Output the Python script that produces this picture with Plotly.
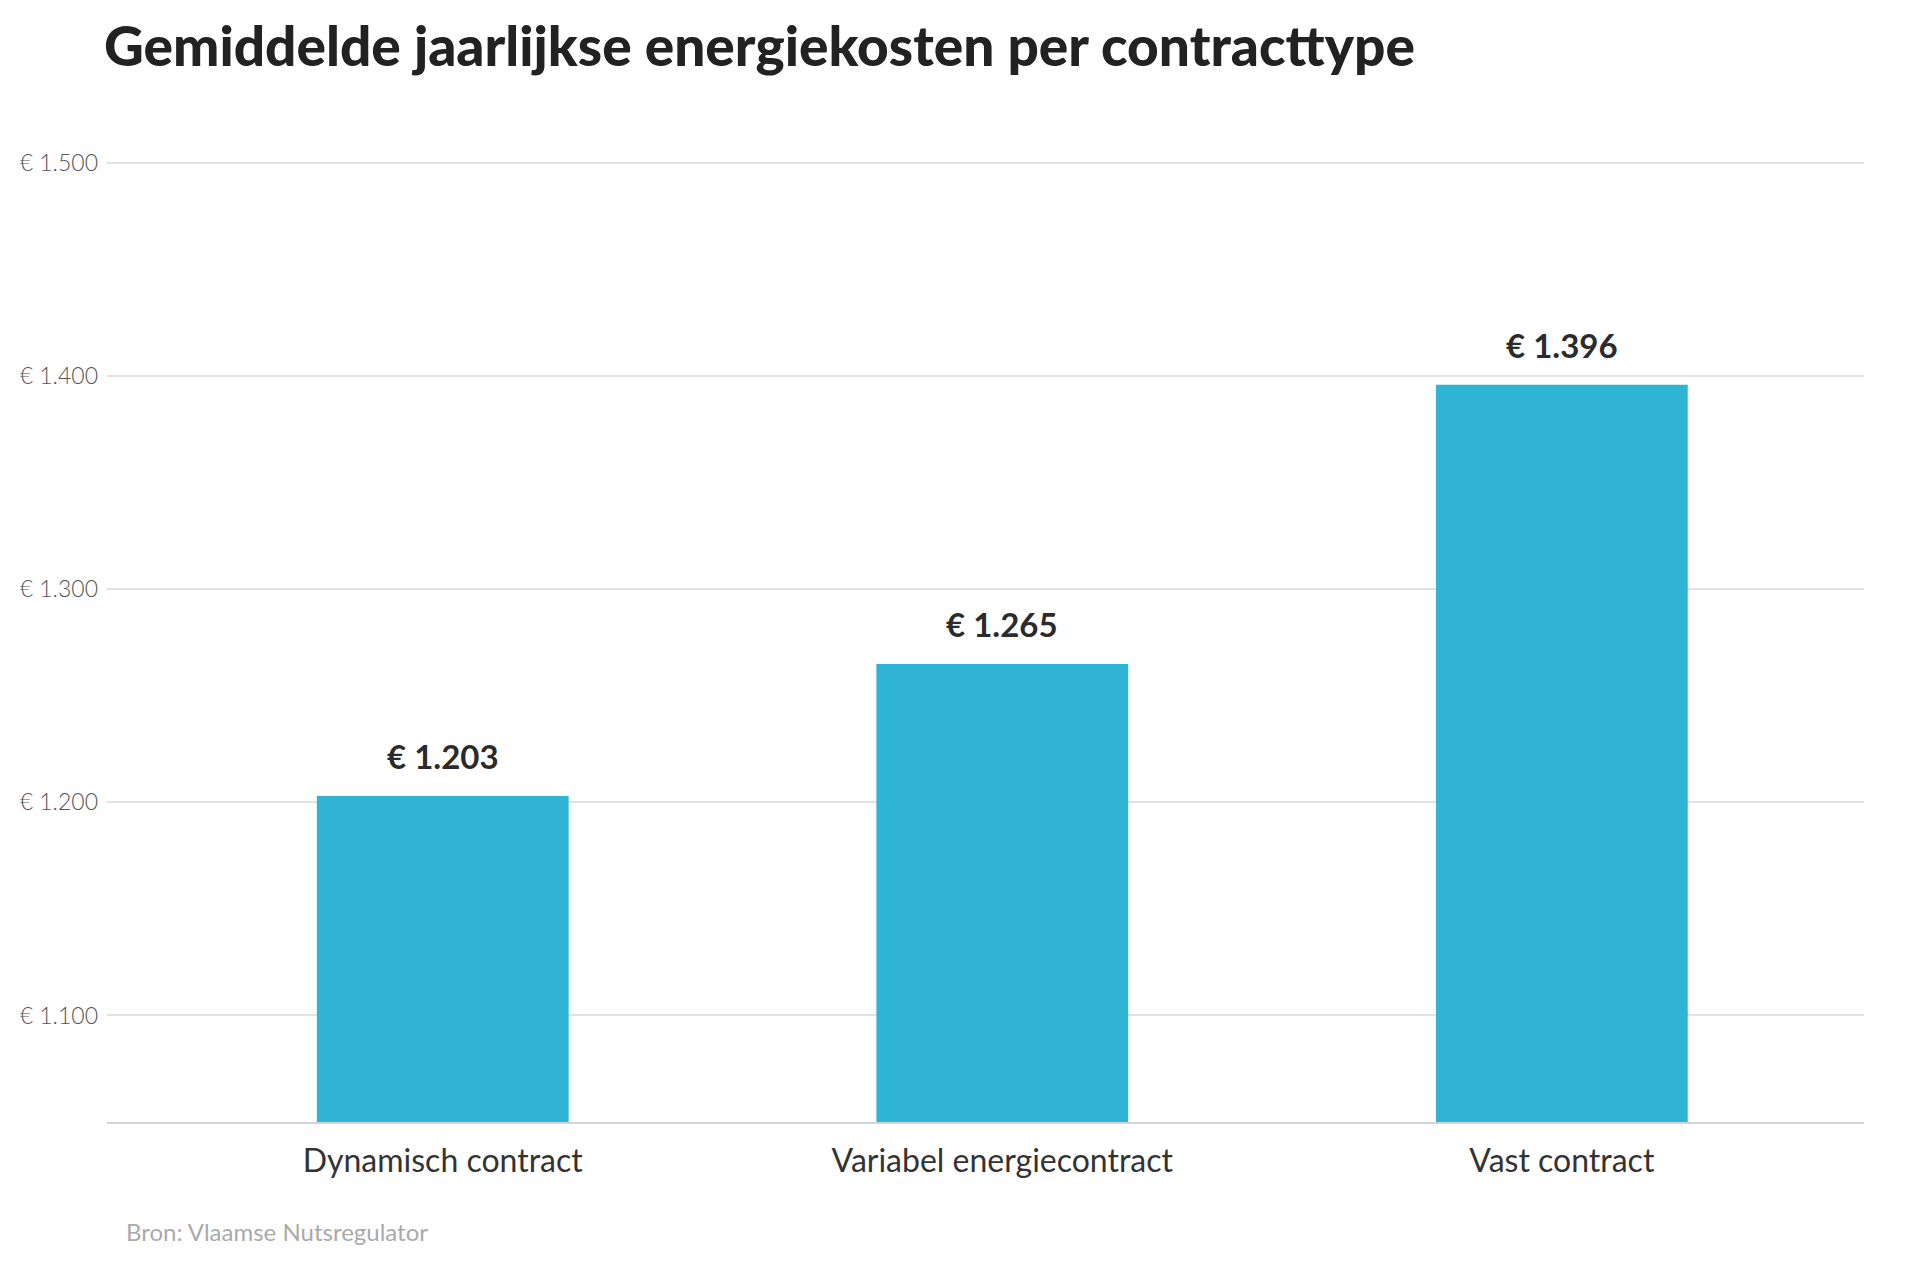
import plotly.graph_objects as go

# data
contract_types = ["Dynamisch contract", "Variabel energiecontract", "Vast contract"]
yearly_cost = [1203, 1265, 1396]
cost_labels = ["€ 1.203", "€ 1.265", "€ 1.396"]
y_tick_values = [1100, 1200, 1300, 1400, 1500]
y_tick_labels = ["€ 1.100", "€ 1.200", "€ 1.300", "€ 1.400", "€ 1.500"]

FONT = "Lato"

fig = go.Figure()

fig.add_trace(
    go.Bar(
        x=contract_types,
        y=yearly_cost,
        marker=dict(color="#2fb5d3", line=dict(width=0)),
        width=0.45,
        hoverinfo="skip",
    )
)

# value labels above the bars
for cat, val, lab in zip(contract_types, yearly_cost, cost_labels):
    fig.add_annotation(
        x=cat,
        y=val,
        text="<b>" + lab + "</b>",
        showarrow=False,
        yanchor="middle",
        yshift=40,
        font=dict(family=FONT, size=33, color="#2b2b2b", weight=900),
    )

fig.update_layout(
    width=1916,
    height=1263,
    margin=dict(l=92, r=60, t=151, b=149),
    paper_bgcolor="white",
    plot_bgcolor="white",
    showlegend=False,
    font=dict(family=FONT, color="#2b2b2b"),
    title=dict(
        text="Gemiddelde jaarlijkse energiekosten per contracttype",
        font=dict(family=FONT, size=55, color="#222222", weight=900),
        x=96 / 1916,
        xanchor="left",
        xref="container",
        y=1 - 19 / 1263,
        yanchor="top",
        yref="container",
        pad=dict(t=0, b=0),
    ),
)

fig.update_xaxes(
    type="category",
    range=[-0.6, 2.54],
    showgrid=False,
    showline=True,
    linecolor="#d4d4d4",
    linewidth=2,
    ticks="",
    tickfont=dict(family=FONT, size=32, color="#333333"),
    ticklabelstandoff=10,
)

fig.update_yaxes(
    range=[1050, 1502],
    tickvals=y_tick_values,
    ticktext=y_tick_labels,
    showgrid=True,
    gridcolor="#e2e2e2",
    gridwidth=2,
    zeroline=False,
    showline=False,
    ticks="",
    tickfont=dict(family=FONT, size=23, color="#555555", weight=300),
    ticklabelstandoff=8,
)

fig.add_annotation(
    text="Bron: Vlaamse Nutsregulator",
    xref="paper",
    yref="paper",
    x=17 / 1764,
    y=-109 / 963,
    xanchor="left",
    yanchor="middle",
    showarrow=False,
    font=dict(family=FONT, size=24, color="#aaaaaa"),
)

fig.write_html("out.html")
